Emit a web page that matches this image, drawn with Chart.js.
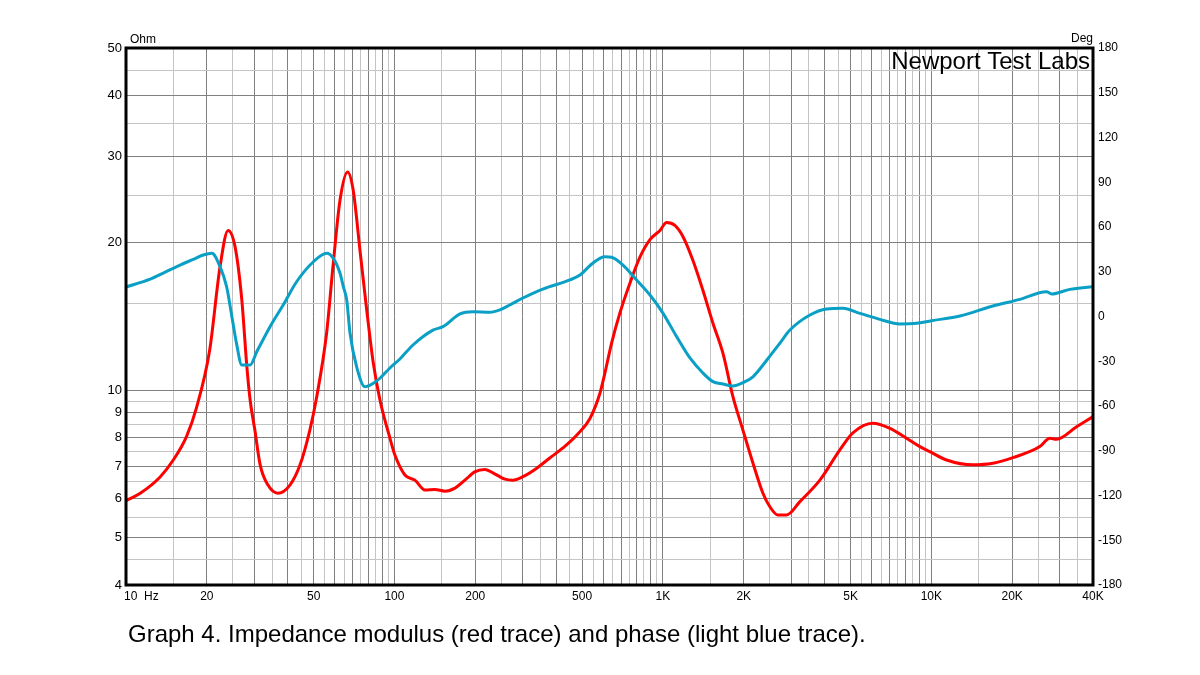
<!DOCTYPE html>
<html>
<head>
<meta charset="utf-8">
<script src="https://cdn.jsdelivr.net/npm/chart.js@4.4.1/dist/chart.umd.min.js"></script>
<style>
  body { margin: 0; background: #fff; }
  #wrap { width: 1200px; height: 675px; }
</style>
</head>
<body>
<div id="wrap"><canvas id="graph" width="1200" height="675"></canvas></div>
<script>
// impedance modulus (red trace), Hz / Ohm
const redFreq = [10, 11.3, 13.4, 15, 16.8, 18.3, 20.5, 22.4, 24, 25.5, 27, 28.2, 29, 30.2, 31.6, 33.8, 36.8, 40.8, 44.5,
    48.4, 51.3, 55.9, 59, 62.7, 66.9, 70.2, 74.4, 78.8, 83.4, 88.3, 96.2, 100.4, 109.4, 119.2, 129.9, 141.5, 154.2, 168, 183,
    199, 217, 237, 258, 276, 301, 339, 379, 424, 478, 535, 583, 608, 644, 692, 754, 821, 895, 975, 1032,
    1108, 1187, 1294, 1409, 1536, 1673, 1823, 1986, 2164, 2358, 2503, 2682, 2889, 3238, 3843, 4562, 5101, 6053, 7006, 8083,
    9063, 9872, 11390, 14270, 16940, 20110, 25350, 27620, 29260, 34740, 40000];
const redOhm = [5.95, 6.16, 6.65, 7.2, 8.04, 9.2, 12.08, 17.87, 21.2, 19.6, 15.3, 11.16, 9.55, 8.29, 7.04, 6.4, 6.16, 6.4, 7.04,
    8.29, 9.67, 13.1, 17.87, 24.45, 27.9, 25.6, 19.3, 14.6, 11.36, 9.55, 7.98, 7.37, 6.71, 6.55, 6.25, 6.27, 6.22, 6.31, 6.55,
    6.81, 6.89, 6.74, 6.58, 6.55, 6.66, 6.93, 7.27, 7.62, 8.1, 8.76, 9.87, 10.84, 12.48, 14.4, 16.56, 18.7, 20.3, 21.2, 22.0,
    21.7, 20.6, 18.4, 16.0, 13.7, 11.9, 9.7, 8.29, 7.1, 6.16, 5.78, 5.56, 5.56, 5.92, 6.55, 7.55, 8.18, 8.56, 8.36, 7.98,
    7.67, 7.49, 7.2, 7.04, 7.09, 7.28, 7.67, 7.98, 7.94, 8.42, 8.83];

// phase (light blue trace), Hz / degrees
const blueFreq = [10, 12.3, 14, 15.9, 17.8, 19.4, 20.9, 22.4, 23.7, 24.8, 25.8, 27, 29, 30.7, 34.4, 38.5, 43.2, 49.9, 55.9, 59.2,
    62.7, 64.5, 66.4, 68.3, 72.3, 77.7, 83.4, 88.3, 96.2, 104.8, 117.2, 139.1, 151.6, 175.4, 196, 227, 247, 269, 301, 357,
    450, 491, 549, 608, 644, 710, 798, 895, 1000, 1125, 1261, 1409, 1536, 1673, 1823, 1986, 2164, 2439, 2728, 2972,
    3528, 4072, 4682, 5417, 6430, 7633, 8811, 10020, 12770, 16940, 21370, 26850, 28040, 32800, 40000];
const blueDeg = [19.8, 25.1, 29.8, 34.5, 38.3, 41.2, 42.4, 33.4, 20.0, -0.1, -18.0, -32.5, -32.5, -23.6, -6.8, 7.7, 23.3, 36.7, 42.4, 39.0,
    29.0, 20.0, 11.1, -11.1, -33.7, -47.1, -44.8, -41.4, -34.5, -28.5, -19.1, -9.1, -6.8, 1.7, 3.2, 2.8, 4.4, 7.7, 12.4, 18.4,
    24.5, 27.8, 35.9, 40.1, 39.7, 34.5, 24.5, 14.4, 2.3, -13.5, -27.8, -37.9, -43.7, -45.3, -46.6, -44.4, -40.4, -29.2, -17.8, -9.1,
    1.0, 5.0, 5.5, 2.1, -1.9, -5.0, -4.6, -2.8, 0.3, 7.0, 11.5, 16.6, 15.1, 18.2, 20.0];

// tick labels
const freqLabels = [[10, '10  Hz'], [20, '20'], [50, '50'], [100, '100'], [200, '200'], [500, '500'],
    [1000, '1K'], [2000, '2K'], [5000, '5K'], [10000, '10K'], [20000, '20K'], [40000, '40K']];
const ohmLabels = [4, 5, 6, 7, 8, 9, 10, 20, 30, 40, 50];
const degTicks = [-180, -150, -120, -90, -60, -30, 0, 30, 60, 90, 120, 150, 180];

const DARK = '#808080';
const LIGHT = '#c4c4c4';
const FONT = '"Liberation Sans", Arial, Helvetica, sans-serif';

// grid values: 1, 1.5, 2 ... 9.5 per decade
function gridValues(min, max) {
    const out = [];
    for (let dec = 1; dec <= 100000; dec *= 10) {
        for (let m = 1; m < 10; m += 0.5) {
            const v = +(m * dec).toPrecision(6);
            if (v >= min && v <= max) out.push(v);
        }
    }
    return out;
}

function isMajor(v) {
    const dec = Math.pow(10, Math.floor(Math.log10(v) + 1e-9));
    const m = v / dec;
    return Math.abs(m - Math.round(m)) < 1e-6;
}

const frame = {
    id: 'frame',
    afterDraw(chart) {
        const ctx = chart.ctx;
        const a = chart.chartArea;
        const xs = chart.scales.x;
        ctx.save();
        ctx.strokeStyle = '#000';
        ctx.lineWidth = 3;
        ctx.strokeRect(a.left, a.top, a.right - a.left, a.bottom - a.top);

        ctx.fillStyle = '#000';
        ctx.font = '12px ' + FONT;
        ctx.textBaseline = 'alphabetic';
        freqLabels.forEach(([v, t], i) => {
            const px = xs.getPixelForValue(v);
            ctx.textAlign = i === 0 ? 'left' : 'center';
            ctx.fillText(t, i === 0 ? px - 2 : px, 600);
        });

        // axis units
        ctx.textAlign = 'left';
        ctx.fillText('Ohm', 130, 43);
        ctx.textAlign = 'right';
        ctx.fillText('Deg', 1093, 42);

        ctx.font = '24px ' + FONT;
        ctx.textAlign = 'right';
        ctx.fillText('Newport Test Labs', 1090, 69);

        ctx.textAlign = 'left';
        ctx.fillText('Graph 4. Impedance modulus (red trace) and phase (light blue trace).', 128, 642);
        ctx.restore();
    }
};

new Chart(document.getElementById('graph'), {
    type: 'line',
    data: {
        datasets: [{
            label: 'Phase',
            data: blueFreq.map((f, i) => ({ x: f, y: blueDeg[i] })),
            yAxisID: 'y2',
            borderColor: '#0aa0c6',
            borderWidth: 3,
            pointRadius: 0,
            cubicInterpolationMode: 'monotone',
            order: 0
        }, {
            label: 'Impedance',
            data: redFreq.map((f, i) => ({ x: f, y: redOhm[i] })),
            yAxisID: 'y',
            borderColor: '#ff0000',
            borderWidth: 3,
            pointRadius: 0,
            cubicInterpolationMode: 'monotone',
            order: 1
        }]
    },
    options: {
        responsive: false,
        animation: false,
        devicePixelRatio: 1,
        layout: { padding: { top: 48, left: 0, right: 0, bottom: 0 } },
        plugins: {
            legend: { display: false },
            tooltip: { enabled: false },
            title: { display: false }
        },
        scales: {
            x: {
                type: 'logarithmic',
                min: 10,
                max: 40000,
                afterBuildTicks: (s) => { s.ticks = gridValues(10, 40000).map(v => ({ value: v })); },
                afterFit: (s) => { s.height = 90; },
                ticks: { display: false },
                border: { display: false },
                grid: {
                    drawTicks: false,
                    color: (c) => (c.tick && isMajor(c.tick.value)) ? DARK : LIGHT
                }
            },
            y: {
                type: 'logarithmic',
                position: 'left',
                min: 4,
                max: 50,
                afterBuildTicks: (s) => { s.ticks = gridValues(4, 50).map(v => ({ value: v })); },
                afterFit: (s) => { s.width = 126; },
                border: { display: false },
                grid: {
                    drawTicks: false,
                    color: (c) => (c.tick && isMajor(c.tick.value)) ? DARK : LIGHT
                },
                ticks: {
                    padding: 4,
                    color: '#000',
                    font: { family: FONT, size: 13 },
                    autoSkip: false,
                    callback: (v) => ohmLabels.includes(v) ? String(v) : ''
                }
            },
            y2: {
                type: 'linear',
                position: 'right',
                min: -180,
                max: 180,
                afterBuildTicks: (s) => { s.ticks = degTicks.map(v => ({ value: v })); },
                afterFit: (s) => { s.width = 107; },
                border: { display: false },
                grid: { display: false, drawTicks: false },
                ticks: {
                    padding: 5,
                    color: '#000',
                    font: { family: FONT, size: 12 },
                    autoSkip: false,
                    callback: (v) => String(v)
                }
            }
        }
    },
    plugins: [frame]
});
</script>
</body>
</html>
